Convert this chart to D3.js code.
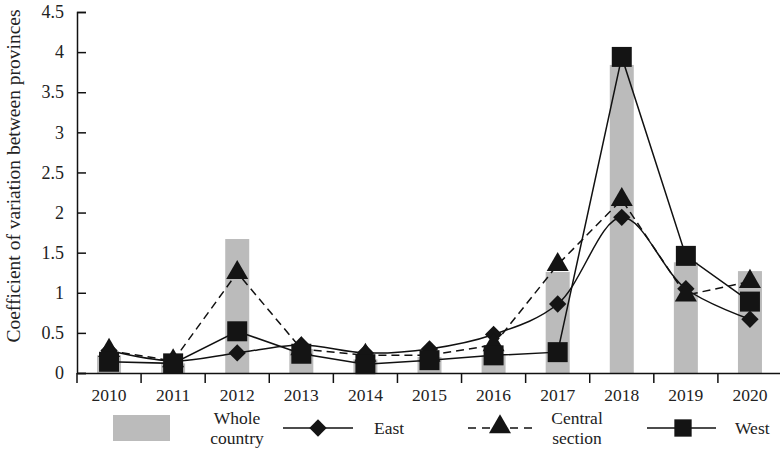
<!DOCTYPE html>
<html>
<head>
<meta charset="utf-8">
<script src="https://cdn.jsdelivr.net/npm/d3@7"></script>
<style>
  body { margin: 0; background: #fff; }
  text { font-family: "Liberation Serif", "DejaVu Serif", serif; fill: #222; }
</style>
</head>
<body>
<div id="chart"></div>
<script>
var years = ["2010", "2011", "2012", "2013", "2014", "2015", "2016", "2017", "2018", "2019", "2020"];
var whole = [0.22, 0.12, 1.67, 0.3, 0.17, 0.2, 0.22, 1.26, 3.84, 1.38, 1.27];
var east = [0.28, 0.15, 0.25, 0.35, 0.25, 0.3, 0.48, 0.86, 1.94, 1.05, 0.67];
var central = [0.28, 0.15, 1.25, 0.3, 0.22, 0.22, 0.35, 1.35, 2.16, 0.97, 1.14];
var west = [0.14, 0.12, 0.52, 0.24, 0.11, 0.16, 0.22, 0.26, 3.94, 1.46, 0.89];
var yTicks = [0, 0.5, 1, 1.5, 2, 2.5, 3, 3.5, 4, 4.5];

var svg = d3.select("#chart").append("svg").attr("width", 780).attr("height", 460);

var x = d3.scaleBand().domain(years).range([77, 782]);
var y = d3.scaleLinear().domain([0, 4.5]).range([373, 12]);
var cx = (i) => x(years[i]) + x.bandwidth() / 2;

// bars
svg.append("g")
  .selectAll("rect")
  .data(whole)
  .enter()
  .append("rect")
  .attr("x", (d, i) => cx(i) - 12)
  .attr("width", 24)
  .attr("y", (d) => y(d))
  .attr("height", (d) => y(0) - y(d))
  .attr("fill", "#bbbbbb");

// axes
var yAxis = svg.append("g")
  .attr("transform", "translate(77,0)")
  .call(d3.axisRight(y).tickValues(yTicks).tickSize(9).tickFormat(d3.format("")));
yAxis.selectAll("text").attr("x", -13).attr("text-anchor", "end").style("font-size", "18px");

var xAxis = svg.append("g")
  .attr("transform", "translate(0,373)")
  .call(d3.axisBottom(x).tickSize(0).tickSizeOuter(0));
xAxis.selectAll("text").attr("y", 28).attr("dy", 0).style("font-size", "17.5px");
xAxis.selectAll(".sep")
  .data(years)
  .enter()
  .append("line")
  .attr("x1", (d) => x(d)).attr("x2", (d) => x(d))
  .attr("y1", 0).attr("y2", 10)
  .attr("stroke", "#111").attr("stroke-width", 1.5);
svg.selectAll(".domain").attr("stroke", "#111").attr("stroke-width", 1.5);
svg.selectAll(".tick line").attr("stroke", "#111").attr("stroke-width", 1.5);

svg.append("text")
  .attr("transform", "translate(20,176) rotate(-90)")
  .attr("text-anchor", "middle")
  .style("font-size", "19.5px")
  .text("Coefficient of variation between provinces");

// lines
var line = d3.line().x((d, i) => cx(i)).y((d) => y(d));
var smooth = d3.line().x((d, i) => cx(i)).y((d) => y(d)).curve(d3.curveCatmullRom);

svg.append("path").datum(east).attr("d", smooth)
  .attr("fill", "none").attr("stroke", "#111").attr("stroke-width", 1.5);
svg.append("path").datum(central).attr("d", line)
  .attr("fill", "none").attr("stroke", "#111").attr("stroke-width", 1.5)
  .attr("stroke-dasharray", "8,5");
svg.append("path").datum(west).attr("d", line)
  .attr("fill", "none").attr("stroke", "#111").attr("stroke-width", 1.5);

// markers
var diamond = d3.symbol().type(d3.symbolSquare).size(150);
var tri = d3.symbol().type(d3.symbolTriangle).size(210);
var sq = d3.symbol().type(d3.symbolSquare).size(400);

function markers(data, sym, rot) {
  svg.append("g")
    .selectAll("path")
    .data(data)
    .enter()
    .append("path")
    .attr("d", sym)
    .attr("transform", (d, i) => `translate(${cx(i)},${y(d)}) rotate(${rot})`)
    .attr("fill", "#141414");
}
markers(east, diamond, 45);
markers(central, tri, 0);
markers(west, sq, 0);

// legend
var ly = 428;
var lg = svg.append("g");
lg.append("rect").attr("x", 113).attr("y", ly - 13).attr("width", 57).attr("height", 26).attr("fill", "#bbbbbb");
lg.append("text").attr("x", 237).attr("y", ly - 4).attr("text-anchor", "middle").style("font-size", "17.5px").text("Whole");
lg.append("text").attr("x", 237).attr("y", ly + 16).attr("text-anchor", "middle").style("font-size", "17.5px").text("country");

lg.append("line").attr("x1", 283).attr("x2", 353).attr("y1", ly).attr("y2", ly).attr("stroke", "#111").attr("stroke-width", 1.5);
lg.append("path").attr("d", diamond).attr("transform", `translate(318,${ly}) rotate(45)`).attr("fill", "#141414");
lg.append("text").attr("x", 374).attr("y", ly + 6).style("font-size", "17.5px").text("East");

lg.append("line").attr("x1", 468).attr("x2", 532).attr("y1", ly).attr("y2", ly).attr("stroke", "#111").attr("stroke-width", 1.5).attr("stroke-dasharray", "8,6");
lg.append("path").attr("d", tri).attr("transform", `translate(500,${ly - 1})`).attr("fill", "#141414");
lg.append("text").attr("x", 577).attr("y", ly - 4).attr("text-anchor", "middle").style("font-size", "17.5px").text("Central");
lg.append("text").attr("x", 577).attr("y", ly + 16).attr("text-anchor", "middle").style("font-size", "17.5px").text("section");

lg.append("line").attr("x1", 647).attr("x2", 716).attr("y1", ly).attr("y2", ly).attr("stroke", "#111").attr("stroke-width", 1.5);
lg.append("path").attr("d", d3.symbol().type(d3.symbolSquare).size(300)).attr("transform", `translate(683,${ly})`).attr("fill", "#141414");
lg.append("text").attr("x", 735).attr("y", ly + 6).style("font-size", "17.5px").text("West");
</script>
</body>
</html>
